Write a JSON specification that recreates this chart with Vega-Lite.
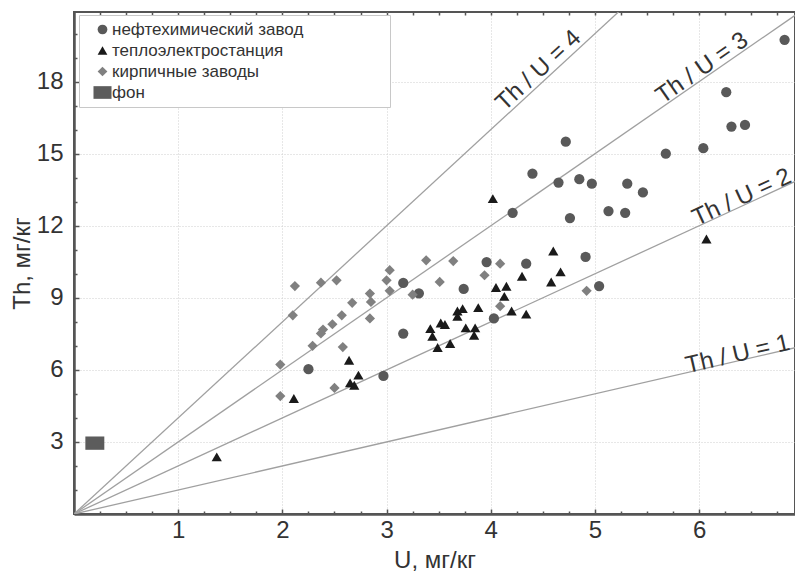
{
  "$schema": "https://vega.github.io/schema/vega-lite/v6.json",
  "width": 721,
  "height": 502,
  "autosize": {"type": "none"},
  "padding": {"left": 74, "top": 12, "right": 0, "bottom": 62},
  "background": "white",
  "config": {
    "font": "Liberation Sans",
    "view": {"stroke": "#555", "strokeWidth": 2},
    "axis": {
      "labelFont": "Liberation Sans", "titleFont": "Liberation Sans",
      "labelFontSize": 24, "titleFontSize": 24,
      "labelColor": "#333", "titleColor": "#333", "titleFontWeight": "normal",
      "domainColor": "#555", "domainWidth": 2.5,
      "tickColor": "#555", "tickWidth": 1.5,
      "gridColor": "#cfcfcf", "gridDash": [1, 2], "gridWidth": 1
    },
    "legend": {
      "orient": "none", "legendX": 5, "legendY": 3, "padding": 6, "symbolOffset": 9, "labelOffset": 1, "rowPadding": 3,
      "labelFontSize": 17, "labelFont": "Liberation Sans", "labelColor": "#333", "labelLimit": 500,
      "strokeColor": "#c8c8c8", "fillColor": "white", "symbolSize": 95, "symbolStrokeWidth": 0, "symbolOpacity": 1
    }
  },
  "datasets": {
    "pts": [
      {"U": 6.82, "Th": 19.74, "src": "нефтехимический завод"},
      {"U": 6.26, "Th": 17.56, "src": "нефтехимический завод"},
      {"U": 6.31, "Th": 16.13, "src": "нефтехимический завод"},
      {"U": 6.44, "Th": 16.2, "src": "нефтехимический завод"},
      {"U": 4.72, "Th": 15.5, "src": "нефтехимический завод"},
      {"U": 5.68, "Th": 15.0, "src": "нефтехимический завод"},
      {"U": 6.04, "Th": 15.23, "src": "нефтехимический завод"},
      {"U": 4.40, "Th": 14.17, "src": "нефтехимический завод"},
      {"U": 4.65, "Th": 13.8, "src": "нефтехимический завод"},
      {"U": 4.85, "Th": 13.94, "src": "нефтехимический завод"},
      {"U": 4.97, "Th": 13.75, "src": "нефтехимический завод"},
      {"U": 5.31, "Th": 13.75, "src": "нефтехимический завод"},
      {"U": 5.46, "Th": 13.39, "src": "нефтехимический завод"},
      {"U": 4.21, "Th": 12.54, "src": "нефтехимический завод"},
      {"U": 4.76, "Th": 12.32, "src": "нефтехимический завод"},
      {"U": 5.13, "Th": 12.61, "src": "нефтехимический завод"},
      {"U": 5.29, "Th": 12.54, "src": "нефтехимический завод"},
      {"U": 3.96, "Th": 10.49, "src": "нефтехимический завод"},
      {"U": 4.34, "Th": 10.42, "src": "нефтехимический завод"},
      {"U": 4.91, "Th": 10.70, "src": "нефтехимический завод"},
      {"U": 5.04, "Th": 9.49, "src": "нефтехимический завод"},
      {"U": 3.74, "Th": 9.37, "src": "нефтехимический завод"},
      {"U": 3.16, "Th": 9.62, "src": "нефтехимический завод"},
      {"U": 3.31, "Th": 9.19, "src": "нефтехимический завод"},
      {"U": 3.16, "Th": 7.51, "src": "нефтехимический завод"},
      {"U": 4.03, "Th": 8.14, "src": "нефтехимический завод"},
      {"U": 2.25, "Th": 6.03, "src": "нефтехимический завод"},
      {"U": 2.97, "Th": 5.75, "src": "нефтехимический завод"},
      {"U": 4.02, "Th": 13.13, "src": "теплоэлектростанция"},
      {"U": 6.07, "Th": 11.45, "src": "теплоэлектростанция"},
      {"U": 4.60, "Th": 10.95, "src": "теплоэлектростанция"},
      {"U": 4.67, "Th": 10.08, "src": "теплоэлектростанция"},
      {"U": 4.30, "Th": 9.90, "src": "теплоэлектростанция"},
      {"U": 4.58, "Th": 9.66, "src": "теплоэлектростанция"},
      {"U": 4.05, "Th": 9.43, "src": "теплоэлектростанция"},
      {"U": 4.15, "Th": 9.48, "src": "теплоэлектростанция"},
      {"U": 4.13, "Th": 9.06, "src": "теплоэлектростанция"},
      {"U": 4.20, "Th": 8.45, "src": "теплоэлектростанция"},
      {"U": 4.34, "Th": 8.32, "src": "теплоэлектростанция"},
      {"U": 3.88, "Th": 8.59, "src": "теплоэлектростанция"},
      {"U": 3.68, "Th": 8.45, "src": "теплоэлектростанция"},
      {"U": 3.73, "Th": 8.55, "src": "теплоэлектростанция"},
      {"U": 3.68, "Th": 8.23, "src": "теплоэлектростанция"},
      {"U": 3.52, "Th": 7.95, "src": "теплоэлектростанция"},
      {"U": 3.56, "Th": 7.89, "src": "теплоэлектростанция"},
      {"U": 3.42, "Th": 7.72, "src": "теплоэлектростанция"},
      {"U": 3.44, "Th": 7.40, "src": "теплоэлектростанция"},
      {"U": 3.76, "Th": 7.75, "src": "теплоэлектростанция"},
      {"U": 3.85, "Th": 7.75, "src": "теплоэлектростанция"},
      {"U": 3.84, "Th": 7.44, "src": "теплоэлектростанция"},
      {"U": 3.61, "Th": 7.10, "src": "теплоэлектростанция"},
      {"U": 3.49, "Th": 6.93, "src": "теплоэлектростанция"},
      {"U": 2.64, "Th": 6.40, "src": "теплоэлектростанция"},
      {"U": 2.73, "Th": 5.78, "src": "теплоэлектростанция"},
      {"U": 2.65, "Th": 5.46, "src": "теплоэлектростанция"},
      {"U": 2.69, "Th": 5.36, "src": "теплоэлектростанция"},
      {"U": 2.11, "Th": 4.81, "src": "теплоэлектростанция"},
      {"U": 1.37, "Th": 2.38, "src": "теплоэлектростанция"},
      {"U": 2.12, "Th": 9.49, "src": "кирпичные заводы"},
      {"U": 2.37, "Th": 9.63, "src": "кирпичные заводы"},
      {"U": 2.52, "Th": 9.73, "src": "кирпичные заводы"},
      {"U": 2.10, "Th": 8.27, "src": "кирпичные заводы"},
      {"U": 2.67, "Th": 8.79, "src": "кирпичные заводы"},
      {"U": 2.57, "Th": 8.27, "src": "кирпичные заводы"},
      {"U": 2.48, "Th": 7.9, "src": "кирпичные заводы"},
      {"U": 2.39, "Th": 7.68, "src": "кирпичные заводы"},
      {"U": 2.37, "Th": 7.52, "src": "кирпичные заводы"},
      {"U": 2.29, "Th": 7.0, "src": "кирпичные заводы"},
      {"U": 2.58, "Th": 6.95, "src": "кирпичные заводы"},
      {"U": 1.98, "Th": 6.22, "src": "кирпичные заводы"},
      {"U": 2.84, "Th": 9.18, "src": "кирпичные заводы"},
      {"U": 2.85, "Th": 8.83, "src": "кирпичные заводы"},
      {"U": 2.84, "Th": 8.14, "src": "кирпичные заводы"},
      {"U": 3.0, "Th": 9.73, "src": "кирпичные заводы"},
      {"U": 3.03, "Th": 10.15, "src": "кирпичные заводы"},
      {"U": 3.03, "Th": 9.29, "src": "кирпичные заводы"},
      {"U": 2.50, "Th": 5.25, "src": "кирпичные заводы"},
      {"U": 1.98, "Th": 4.91, "src": "кирпичные заводы"},
      {"U": 3.38, "Th": 10.56, "src": "кирпичные заводы"},
      {"U": 3.64, "Th": 10.53, "src": "кирпичные заводы"},
      {"U": 4.09, "Th": 10.42, "src": "кирпичные заводы"},
      {"U": 3.94, "Th": 9.94, "src": "кирпичные заводы"},
      {"U": 3.51, "Th": 9.66, "src": "кирпичные заводы"},
      {"U": 3.25, "Th": 9.13, "src": "кирпичные заводы"},
      {"U": 4.09, "Th": 8.65, "src": "кирпичные заводы"},
      {"U": 4.92, "Th": 9.29, "src": "кирпичные заводы"},
      {"U": 0.20, "Th": 2.95, "src": "фон"}
    ],
    "lines": [
      {"k": 1, "U": 0, "Th": 0}, {"k": 1, "U": 7, "Th": 7},
      {"k": 2, "U": 0, "Th": 0}, {"k": 2, "U": 7, "Th": 14},
      {"k": 3, "U": 0, "Th": 0}, {"k": 3, "U": 7, "Th": 21},
      {"k": 4, "U": 0, "Th": 0}, {"k": 4, "U": 7, "Th": 28}
    ],
    "labels": [
      {"k": 4, "U": 4.46, "Th": 18.46, "text": "Th / U = 4"},
      {"k": 3, "U": 6.03, "Th": 18.56, "text": "Th / U = 3"},
      {"k": 2, "U": 6.41, "Th": 13.18, "text": "Th / U = 2"},
      {"k": 1, "U": 6.37, "Th": 6.64, "text": "Th / U = 1"}
    ]
  },
  "resolve": {"axis": {"x": "independent", "y": "independent"}},
  "layer": [
    {
      "data": {"name": "lines"},
      "mark": {"type": "line", "clip": true, "color": "#a0a0a0", "strokeWidth": 1.3},
      "encoding": {
        "x": {"field": "U", "type": "quantitative", "scale": {"domain": [0, 6.92], "nice": false, "zero": false},
              "axis": {"orient": "bottom", "values": [1, 2, 3, 4, 5, 6], "tickSize": -5, "labelPadding": 9, "title": "U, мг/кг", "titlePadding": 6, "grid": true}},
        "y": {"field": "Th", "type": "quantitative", "scale": {"domain": [0, 20.9], "nice": false, "zero": false},
              "axis": {"orient": "left", "values": [3, 6, 9, 12, 15, 18], "tickSize": -5, "labelPadding": 16, "title": "Th, мг/кг", "titlePadding": 2, "grid": true}},
        "detail": {"field": "k", "type": "nominal"}
      }
    },
    {
      "data": {"name": "pts"},
      "mark": {"type": "point", "filled": true, "opacity": 1, "size": 105},
      "encoding": {
        "x": {"field": "U", "type": "quantitative", "scale": {"domain": [0, 6.92], "nice": false, "zero": false},
              "axis": {"orient": "bottom", "values": [0.25, 0.5, 0.75, 1.25, 1.5, 1.75, 2.25, 2.5, 2.75, 3.25, 3.5, 3.75, 4.25, 4.5, 4.75, 5.25, 5.5, 5.75, 6.25, 6.5, 6.75], "tickSize": -3, "labels": false, "domain": false, "grid": false, "title": null}},
        "y": {"field": "Th", "type": "quantitative", "scale": {"domain": [0, 20.9], "nice": false, "zero": false},
              "axis": {"orient": "left", "values": [1, 2, 4, 5, 7, 8, 10, 11, 13, 14, 16, 17, 19, 20], "tickSize": -3, "labels": false, "domain": false, "grid": false, "title": null}},
        "shape": {"field": "src", "type": "nominal",
                  "scale": {"domain": ["нефтехимический завод", "теплоэлектростанция", "кирпичные заводы", "фон"],
                            "range": ["circle", "triangle-up", "diamond", "M-1.85,-1.3H1.85V1.3H-1.85Z"]},
                  "legend": {"title": null, "labelExpr": "datum.label + '\u00a0\u00a0\u00a0\u00a0\u00a0\u00a0\u00a0\u00a0\u00a0\u00a0\u00a0\u00a0\u00a0\u00a0\u00a0\u00a0\u00a0\u200b'"}},
        "color": {"field": "src", "type": "nominal",
                  "scale": {"domain": ["нефтехимический завод", "теплоэлектростанция", "кирпичные заводы", "фон"],
                            "range": ["#595959", "#1a1a1a", "#808080", "#5c5c5c"]},
                  "legend": {"title": null, "labelExpr": "datum.label + '\u00a0\u00a0\u00a0\u00a0\u00a0\u00a0\u00a0\u00a0\u00a0\u00a0\u00a0\u00a0\u00a0\u00a0\u00a0\u00a0\u00a0\u200b'"}}
      }
    },
    {
      "data": {"name": "labels"},
      "transform": [{"filter": "datum.k == 4"}],
      "mark": {"type": "text", "angle": 317.2, "fontSize": 24, "font": "Liberation Sans", "color": "#333", "align": "center", "baseline": "middle"},
      "encoding": {
        "x": {"field": "U", "type": "quantitative", "scale": {"domain": [0, 6.92], "nice": false, "zero": false},
              "axis": {"orient": "top", "values": [0.25, 0.5, 0.75, 1, 1.25, 1.5, 1.75, 2, 2.25, 2.5, 2.75, 3, 3.25, 3.5, 3.75, 4, 4.25, 4.5, 4.75, 5, 5.25, 5.5, 5.75, 6, 6.25, 6.5, 6.75], "tickSize": -3, "labels": false, "domain": false, "grid": false, "title": null}},
        "y": {"field": "Th", "type": "quantitative", "scale": {"domain": [0, 20.9], "nice": false, "zero": false}, "axis": null},
        "text": {"field": "text"}
      }
    },
    {
      "data": {"name": "labels"},
      "transform": [{"filter": "datum.k == 3"}],
      "mark": {"type": "text", "angle": 325.2, "fontSize": 24, "font": "Liberation Sans", "color": "#333", "align": "center", "baseline": "middle"},
      "encoding": {
        "x": {"field": "U", "type": "quantitative", "scale": {"domain": [0, 6.92], "nice": false, "zero": false}, "axis": null},
        "y": {"field": "Th", "type": "quantitative", "scale": {"domain": [0, 20.9], "nice": false, "zero": false}, "axis": null},
        "text": {"field": "text"}
      }
    },
    {
      "data": {"name": "labels"},
      "transform": [{"filter": "datum.k == 2"}],
      "mark": {"type": "text", "angle": 335.2, "fontSize": 24, "font": "Liberation Sans", "color": "#333", "align": "center", "baseline": "middle"},
      "encoding": {
        "x": {"field": "U", "type": "quantitative", "scale": {"domain": [0, 6.92], "nice": false, "zero": false}, "axis": null},
        "y": {"field": "Th", "type": "quantitative", "scale": {"domain": [0, 20.9], "nice": false, "zero": false}, "axis": null},
        "text": {"field": "text"}
      }
    },
    {
      "data": {"name": "labels"},
      "transform": [{"filter": "datum.k == 1"}],
      "mark": {"type": "text", "angle": 347, "fontSize": 24, "font": "Liberation Sans", "color": "#333", "align": "center", "baseline": "middle"},
      "encoding": {
        "x": {"field": "U", "type": "quantitative", "scale": {"domain": [0, 6.92], "nice": false, "zero": false}, "axis": null},
        "y": {"field": "Th", "type": "quantitative", "scale": {"domain": [0, 20.9], "nice": false, "zero": false}, "axis": null},
        "text": {"field": "text"}
      }
    }
  ]
}
